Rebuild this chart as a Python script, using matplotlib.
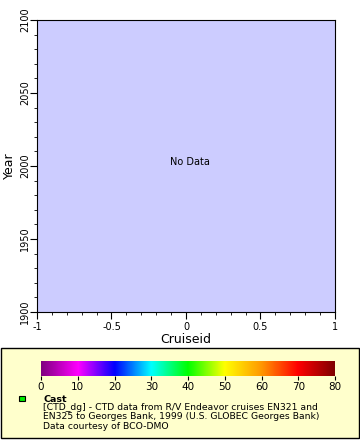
#!/usr/bin/env python3

import matplotlib
matplotlib.use('Agg')
import matplotlib.pyplot as plt
import numpy as np
from matplotlib.colors import LinearSegmentedColormap
from matplotlib.patches import Rectangle
from matplotlib.ticker import MultipleLocator

matplotlib.rcParams['font.family'] = 'DejaVu Sans'

# Axis ranges (no data in this chart)
x_range = [-1, 1]
y_range = [1900, 2100]
x_ticks = [-1, -0.5, 0, 0.5, 1]
x_ticklabels = ['-1', '-0.5', '0', '0.5', '1']
y_ticks = [1900, 1950, 2000, 2050, 2100]

# Colour bar
cbar_ticks = [0, 10, 20, 30, 40, 50, 60, 70, 80]
cbar_colors = ['#800080', '#ff00ff', '#0000ff', '#00ffff', '#00ff00',
               '#ffff00', '#ff9900', '#ff0000', '#800000']

legend_title = 'Cast'
legend_text = ('[CTD_dg] - CTD data from R/V Endeavor cruises EN321 and\n'
               'EN325 to Georges Bank, 1999 (U.S. GLOBEC Georges Bank)\n'
               'Data courtesy of BCO-DMO')

W, H = 360, 440
fig = plt.figure(figsize=(W / 100, H / 100), dpi=100)

# Main axes
ax = fig.add_axes([37 / W, 1 - 312 / H, (335 - 37) / W, (312 - 20) / H])
ax.set_facecolor('#ccccff')
ax.set_xlim(x_range)
ax.set_ylim(y_range)
ax.set_xticks(x_ticks)
ax.set_xticklabels(x_ticklabels)
ax.set_yticks(y_ticks)
ax.set_yticklabels([str(v) for v in y_ticks], rotation=90, va='center')
ax.xaxis.set_minor_locator(MultipleLocator(0.1))
ax.yaxis.set_minor_locator(MultipleLocator(10))
ax.tick_params(which='major', length=5, labelsize=7, pad=2)
ax.tick_params(axis='y', which='major', pad=0)
ax.tick_params(which='minor', length=2.5)
ax.set_xlabel('Cruiseid', fontsize=9, labelpad=1)
ax.set_ylabel('Year', fontsize=9, labelpad=3)
ax.text(0.027, 2003, 'No Data', ha='center', va='center', fontsize=7)

# Legend panel
lax = fig.add_axes([0, 0, 1, 1], zorder=-1)
lax.set_xlim(0, W)
lax.set_ylim(H, 0)
lax.axis('off')
lax.add_patch(Rectangle((1, 348), W - 2.5, 90, facecolor='#ffffcc',
                        edgecolor='black', linewidth=1))
lax.add_patch(Rectangle((19, 396), 6, 5.5, facecolor='#00ee00',
                        edgecolor='black', linewidth=0.8))
lax.text(43, 399, legend_title, fontsize=6.8, fontweight='bold',
         va='center', ha='left')
lax.text(43, 403, legend_text, fontsize=6.7, va='top', ha='left',
         linespacing=1.05)

# Colour bar
cmap = LinearSegmentedColormap.from_list(
    'bar', list(zip(np.linspace(0, 1, len(cbar_colors)), cbar_colors)))
cax = fig.add_axes([41 / W, 1 - 376 / H, (335 - 41) / W, 15 / H])
grad = np.linspace(cbar_ticks[0], cbar_ticks[-1], 256).reshape(1, -1)
cax.imshow(grad, aspect='auto', cmap=cmap,
           extent=[cbar_ticks[0], cbar_ticks[-1], 0, 1])
cax.set_xticks(cbar_ticks)
cax.set_yticks([])
cax.tick_params(labelsize=7.5, length=3, pad=1.5)
for s in cax.spines.values():
    s.set_visible(False)

fig.savefig('out.png', dpi=100)
